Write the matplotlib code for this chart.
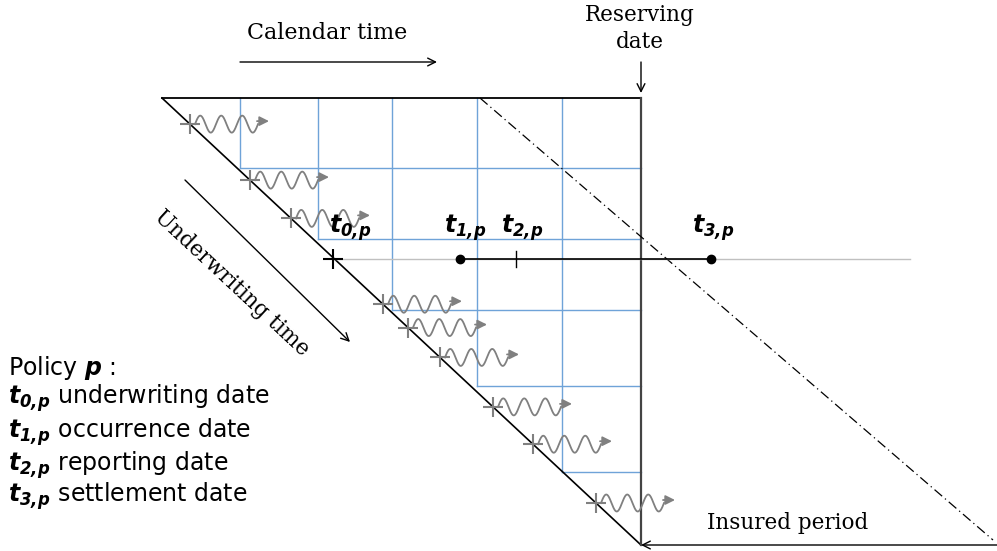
import numpy as np
import matplotlib.pyplot as plt

plt.rcParams['mathtext.fontset'] = 'custom'
plt.rcParams['mathtext.it'] = 'DejaVu Sans:italic:bold'
plt.rcParams['mathtext.rm'] = 'DejaVu Sans:italic:bold'
plt.rcParams['mathtext.bf'] = 'DejaVu Sans:italic:bold'

# ---- diagram data (pixel coordinates, y grows downward) ----
tri_left, tri_right = 162, 641          # top edge of the run-off triangle
tri_top, tri_bottom = 98, 545
step_x = [240, 318, 392, 477, 562]      # blue staircase grid
step_y = [168, 239, 310, 386, 472]
claim_x = [190, 250, 291, 383, 408, 440, 493, 533, 596]   # claims on the diagonal
policy_y = 259
policy_t = [333, 460, 516, 711]          # t0, t1, t2, t3
policy_lbl = [r'$t_{0,\!p}$', r'$t_{1,\!p}$', r'$t_{2,\!p}$', r'$t_{3,\!p}$']
policy_lbl_x = [350, 465, 522, 713]
legend_lines = [r'Policy $p$ :',
                r'$t_{0,\!p}$ underwriting date',
                r'$t_{1,\!p}$ occurrence date',
                r'$t_{2,\!p}$ reporting date',
                r'$t_{3,\!p}$ settlement date']
legend_y = [368, 398, 432, 465, 496]

slope = (tri_bottom - tri_top) / (tri_right - tri_left)


def diag_y(x):
    return tri_top + slope * (x - tri_left)


fig = plt.figure(figsize=(9.97, 5.51), dpi=100)
ax = fig.add_axes([0, 0, 1, 1])
ax.set_xlim(0, 997)
ax.set_ylim(551, 0)
ax.axis('off')

blue = '#6fa3d8'
grey = '#808080'

# staircase grid
for x, y in zip(step_x, step_y):
    ax.plot([x, x], [tri_top, y], color=blue, lw=1)
    ax.plot([x, tri_right], [y, y], color=blue, lw=1)

# triangle
ax.plot([tri_left, tri_right], [tri_top, tri_top], color='black', lw=1.3)
ax.plot([tri_left, tri_right], [tri_top, tri_bottom], color='black', lw=1.2)
ax.plot([tri_right, tri_right], [tri_top, tri_bottom], color='#444444', lw=1.6)

# dash-dot line
ax.plot([480, 993], [tri_top, 540], color='black', lw=0.9, ls=(0, (8, 3, 1, 3)))

# policy timeline
ax.plot([policy_t[0], 910], [policy_y, policy_y], color='#c0c0c0', lw=1)
ax.plot([policy_t[1], policy_t[3]], [policy_y, policy_y], color='black', lw=1.2)
ax.plot([policy_t[1], policy_t[3]], [policy_y, policy_y], 'o', color='black', ms=6)
ax.plot([policy_t[2], policy_t[2]], [policy_y - 8, policy_y + 8], color='black', lw=1)
ax.plot(policy_t[0], policy_y, '+', color='black', ms=14, mew=1.5)
for lbl, x in zip(policy_lbl, policy_lbl_x):
    ax.text(x, 228, lbl, fontsize=17, ha='center', va='center')

# claims: crosses with wavy arrows
for x0 in claim_x:
    y0 = diag_y(x0)
    ax.plot(x0, y0, '+', color=grey, ms=14, mew=1.5)
    xs = np.linspace(0, 63, 300)
    ys = y0 - 8.5 * np.sin(2 * np.pi * xs / 21)
    ax.plot(x0 + 5 + xs, ys, color=grey, lw=1.3)
    ax.annotate('', xy=(x0 + 79, y0 - 3), xytext=(x0 + 67, y0 - 3),
                arrowprops=dict(arrowstyle='-|>', color=grey, lw=1.3,
                                mutation_scale=14, shrinkA=0, shrinkB=0))

# arrows
arrow = dict(arrowstyle='->', color='black', lw=1, mutation_scale=14,
             shrinkA=0, shrinkB=0)
ax.annotate('', xy=(437, 62), xytext=(240, 62), arrowprops=arrow)
ax.annotate('', xy=(641, 93), xytext=(641, 62), arrowprops=arrow)
ax.annotate('', xy=(350, 342), xytext=(185, 180), arrowprops=arrow)
ax.annotate('', xy=(641, 545), xytext=(997, 545), arrowprops=arrow)

serif = 'DejaVu Serif'
ax.text(327, 33, 'Calendar time', family=serif, fontsize=16, ha='center', va='center')
ax.text(640, 15, 'Reserving', family=serif, fontsize=15.5, ha='center', va='center')
ax.text(640, 42, 'date', family=serif, fontsize=15.5, ha='center', va='center')
ax.text(788, 523, 'Insured period', family=serif, fontsize=15.5, ha='center', va='center')
ax.text(232, 283, 'Underwriting time', family=serif, fontsize=15.5, ha='center',
        va='center', rotation=-43, rotation_mode='anchor')

for line, y in zip(legend_lines, legend_y):
    ax.text(8, y, line, fontsize=17, ha='left', va='center')

fig.savefig('out.png', dpi=100)
